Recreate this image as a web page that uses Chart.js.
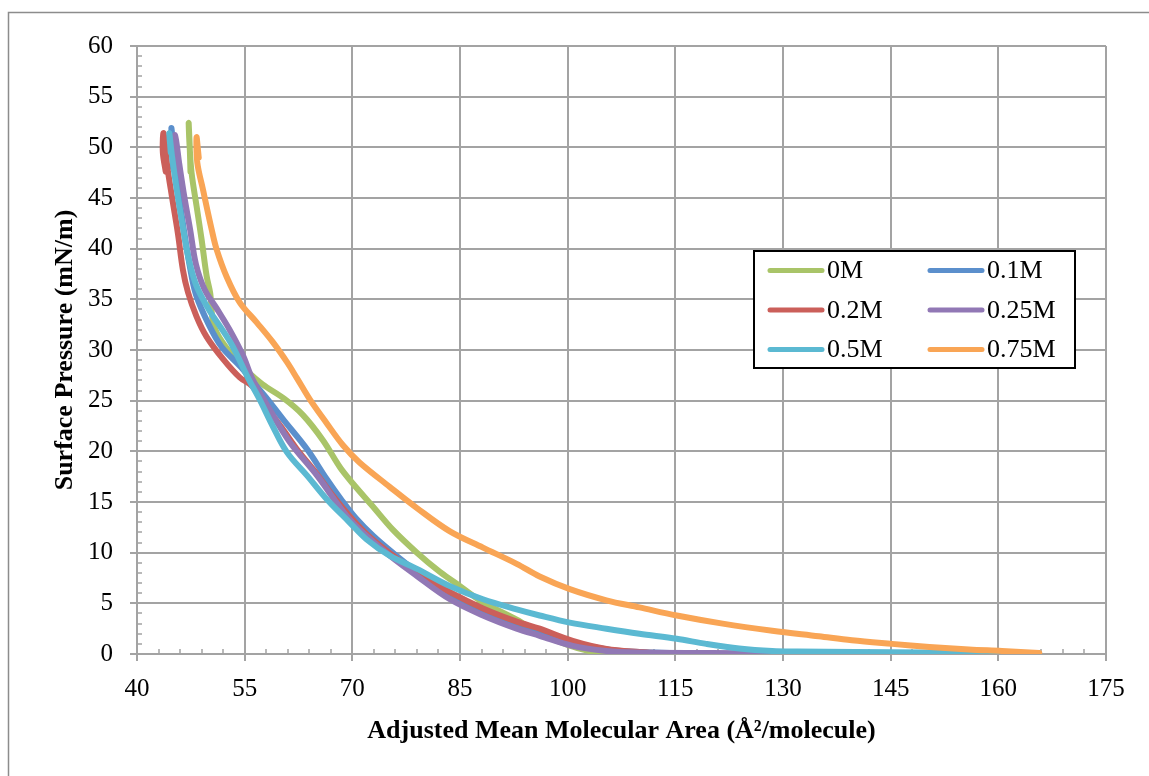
<!DOCTYPE html>
<html>
<head>
<meta charset="utf-8">
<title>Surface pressure isotherms</title>
<script src="https://cdn.jsdelivr.net/npm/chart.js@4.4.1/dist/chart.umd.min.js"></script>
<style>
  body { margin: 0; background: #fff; }
</style>
</head>
<body>
<canvas id="isotherms" width="1149" height="776"></canvas>
<script>
// Series labels and colours (legend order)
const seriesNames = ['0M', '0.1M', '0.2M', '0.25M', '0.5M', '0.75M'];
const seriesColors = ['#A9C468', '#5B8FCC', '#CB5F5A', '#9178B5', '#5BB9D2', '#F9A555'];

// Mean molecular area (Å²/molecule) and surface pressure (mN/m), compression order
const area0M = [112, 106, 103, 100, 96, 92.9, 88.2, 85, 82.2, 79, 75.6, 72.8, 70.1, 68.3, 65.9, 63.1, 60.5, 57.5, 55.5, 53.5, 51.5, 50.6, 50.2, 49.7, 49.0, 48.3, 47.6, 47.3, 47.2, 47.35, 47.45];
const pressure0M = [0, 0.05, 0.3, 0.9, 2.1, 3.4, 5.1, 6.7, 8.1, 10.0, 12.3, 14.6, 16.8, 18.4, 21.1, 23.6, 25.2, 26.6, 27.8, 29.3, 31.2, 32.7, 35.6, 37.3, 40.9, 44.2, 47.5, 50.5, 52.4, 50.0, 47.6];

const area01M = [120, 112, 106, 101, 96.5, 92.5, 88, 84, 80, 76.5, 73, 70.5, 68.5, 66.4, 63.7, 60.3, 58, 56.1, 54.5, 51.8, 50, 48.2, 47.3, 46.5, 45.8, 45.2, 44.8, 44.9, 45.0];
const pressure01M = [0, 0.15, 0.4, 1.1, 2.2, 3.0, 4.2, 5.7, 7.6, 9.5, 11.6, 13.4, 15.2, 17.3, 20.2, 23.2, 25.3, 26.9, 28.3, 30.3, 32.5, 35.5, 38.5, 42, 45.5, 49, 51.9, 50, 48];

const area02M = [115, 110, 105.4, 100.7, 96.1, 92.9, 88.2, 83.6, 79.0, 75.5, 72.5, 70.0, 67.3, 64.8, 62.5, 60.2, 58.0, 56.1, 54.3, 52.0, 49.7, 48.3, 47.1, 46.4, 45.7, 44.9, 44.2, 43.7, 43.6, 44.0];
const pressure02M = [0, 0.2, 0.5, 1.3, 2.5, 3.2, 4.5, 6.1, 8.0, 9.8, 11.5, 13.3, 15.6, 18.0, 20.0, 22.3, 24.4, 26.4, 27.3, 29.1, 31.3, 33.3, 35.7, 37.9, 41.5, 45.0, 48.2, 51.4, 49.5, 47.6];

const area025M = [140, 130, 120, 110, 105.4, 100.7, 96.1, 92.9, 88.2, 83.6, 79, 74.2, 69.6, 65.1, 61.3, 58.5, 56.1, 54.8, 52.9, 51.1, 49.4, 48.2, 47.4, 46.6, 45.9, 45.3, 45.1, 45.4];
const pressure025M = [0, 0.05, 0.1, 0.15, 0.3, 0.8, 1.8, 2.5, 3.8, 5.4, 7.7, 10.3, 13.3, 17.6, 20.9, 24.1, 27.1, 29.4, 32.0, 34.1, 36.0, 38.5, 41.9, 45.1, 48.3, 51.2, 49.5, 47.5];

const area05M = [165.7, 150, 140, 132, 128.5, 123.9, 119.3, 115.2, 110, 105.4, 100.3, 96.1, 92.9, 88.2, 83.6, 79, 75.2, 72, 69.6, 66.4, 63.7, 60.9, 58.9, 57.1, 55.5, 53.3, 51.5, 50, 48.3, 47.2, 46.3, 45.5, 44.9, 44.5, 44.7];
const pressure05M = [0.05, 0.15, 0.2, 0.25, 0.3, 0.55, 1.0, 1.5, 2.0, 2.5, 3.1, 3.8, 4.4, 5.4, 6.7, 8.4, 9.7, 11.3, 13.0, 15.3, 17.6, 19.9, 22.5, 25.1, 27.2, 30.4, 32.4, 34.0, 36.3, 39, 42.5, 46, 49, 51.4, 49.5];

const area075M = [165.7, 160.5, 155.9, 150.4, 145.2, 139.6, 135, 128.5, 121.6, 115.2, 110, 105.4, 100.3, 96.1, 92.9, 88.2, 83.6, 79, 75.2, 71, 68.7, 66.4, 64.1, 62.3, 60.9, 58.9, 56.7, 54.3, 52.5, 51.1, 50.4, 49.2, 48.4, 48.3, 48.6];
const pressure075M = [0.1, 0.3, 0.45, 0.7, 1.0, 1.35, 1.75, 2.3, 3.0, 3.8, 4.6, 5.3, 6.4, 7.65, 8.9, 10.5, 12.1, 14.4, 16.5, 18.9, 20.6, 22.8, 25.1, 27.2, 28.8, 30.8, 32.7, 34.7, 37.2, 39.9, 41.9, 45.8, 48.5, 51.0, 49];

const areas = [area0M, area01M, area02M, area025M, area05M, area075M];
const pressures = [pressure0M, pressure01M, pressure02M, pressure025M, pressure05M, pressure075M];

// Axis ranges
const X_MIN = 40, X_MAX = 175, X_STEP = 15, X_MINOR = 3;
const Y_MIN = 0, Y_MAX = 60, Y_STEP = 5, Y_MINOR = 1;

const GRID = '#a3a3a3';
const FONT = "'Liberation Serif', 'Times New Roman', serif";

const datasets = seriesNames.map((name, i) => ({
    label: name,
    data: areas[i].map((a, k) => ({ x: a, y: pressures[i][k] })),
    borderColor: seriesColors[i],
    backgroundColor: seriesColors[i],
    borderWidth: 6,
    borderCapStyle: 'round',
    borderJoinStyle: 'round',
    pointRadius: 0,
    showLine: true,
    tension: 0.35,
    // later series are painted on top
    order: seriesNames.length - 1 - i
}));

// grey frame around the chart, only its top and left edges fall on the canvas
const frame = {
    id: 'frame',
    beforeDraw(chart) {
        const { ctx } = chart;
        ctx.save();
        ctx.strokeStyle = '#8c8c8c';
        ctx.lineWidth = 1.5;
        ctx.strokeRect(8.5, 12.5, chart.width + 50, chart.height + 50);
        ctx.restore();
    }
};

// small inward ticks between the labelled ones
const minorTicks = {
    id: 'minorTicks',
    beforeDatasetsDraw(chart) {
        const { ctx, scales: { x, y } } = chart;
        ctx.save();
        ctx.strokeStyle = GRID;
        ctx.lineWidth = 1.5;
        ctx.beginPath();
        for (let v = X_MIN + X_MINOR; v < X_MAX; v += X_MINOR) {
            if ((v - X_MIN) % X_STEP === 0) continue;
            const px = Math.round(x.getPixelForValue(v));
            ctx.moveTo(px, y.bottom);
            ctx.lineTo(px, y.bottom - 5);
        }
        for (let v = Y_MIN + Y_MINOR; v < Y_MAX; v += Y_MINOR) {
            if ((v - Y_MIN) % Y_STEP === 0) continue;
            const py = Math.round(y.getPixelForValue(v));
            ctx.moveTo(x.left, py);
            ctx.lineTo(x.left + 5, py);
        }
        ctx.stroke();
        ctx.restore();
    }
};

// boxed two-column legend inside the plot
const boxLegend = {
    id: 'boxLegend',
    afterDraw(chart) {
        const { ctx } = chart;
        const box = { left: 754, top: 251, width: 321, height: 117 };
        ctx.save();
        ctx.fillStyle = '#fff';
        ctx.fillRect(box.left, box.top, box.width, box.height);
        ctx.strokeStyle = '#000';
        ctx.lineWidth = 2;
        ctx.strokeRect(box.left, box.top, box.width, box.height);
        ctx.font = '26px ' + FONT;
        ctx.textBaseline = 'middle';
        ctx.fillStyle = '#000';
        seriesNames.forEach((name, i) => {
            const col = i % 2, row = Math.floor(i / 2);
            const x0 = box.left + 16 + col * 160;
            const yc = box.top + 19.5 + row * 39.5;
            ctx.strokeStyle = seriesColors[i];
            ctx.lineWidth = 5;
            ctx.lineCap = 'round';
            ctx.beginPath();
            ctx.moveTo(x0, yc);
            ctx.lineTo(x0 + 52, yc);
            ctx.stroke();
            ctx.fillText(name, x0 + 57, yc + 1);
        });
        ctx.restore();
    }
};

new Chart(document.getElementById('isotherms'), {
    type: 'scatter',
    data: { datasets },
    options: {
        responsive: false,
        animation: false,
        layout: { padding: { top: 46, right: 43, bottom: 0, left: 0 } },
        plugins: {
            legend: { display: false },
            tooltip: { enabled: false }
        },
        scales: {
            x: {
                type: 'linear',
                min: X_MIN,
                max: X_MAX,
                afterFit: (scale) => { scale.height = 122; },
                ticks: {
                    stepSize: X_STEP,
                    color: '#000',
                    padding: 13,
                    maxRotation: 0,
                    font: { family: FONT, size: 25 }
                },
                grid: { color: GRID, lineWidth: 2, tickLength: 7 },
                border: { color: GRID, width: 2 },
                title: {
                    display: true,
                    text: 'Adjusted Mean Molecular Area (Å²/molecule)',
                    color: '#000',
                    padding: { top: 29, bottom: 29 },
                    font: { family: FONT, size: 26, weight: 'bold' }
                }
            },
            y: {
                min: Y_MIN,
                max: Y_MAX,
                afterFit: (scale) => { scale.width = 137; },
                ticks: {
                    stepSize: Y_STEP,
                    color: '#000',
                    padding: 17,
                    font: { family: FONT, size: 25 }
                },
                grid: { color: GRID, lineWidth: 2, tickLength: 7 },
                border: { color: GRID, width: 2 },
                title: {
                    display: true,
                    text: 'Surface Pressure (mN/m)',
                    color: '#000',
                    padding: { top: 50, bottom: 50 },
                    font: { family: FONT, size: 26, weight: 'bold' }
                }
            }
        }
    },
    plugins: [frame, minorTicks, boxLegend]
});
</script>
</body>
</html>
